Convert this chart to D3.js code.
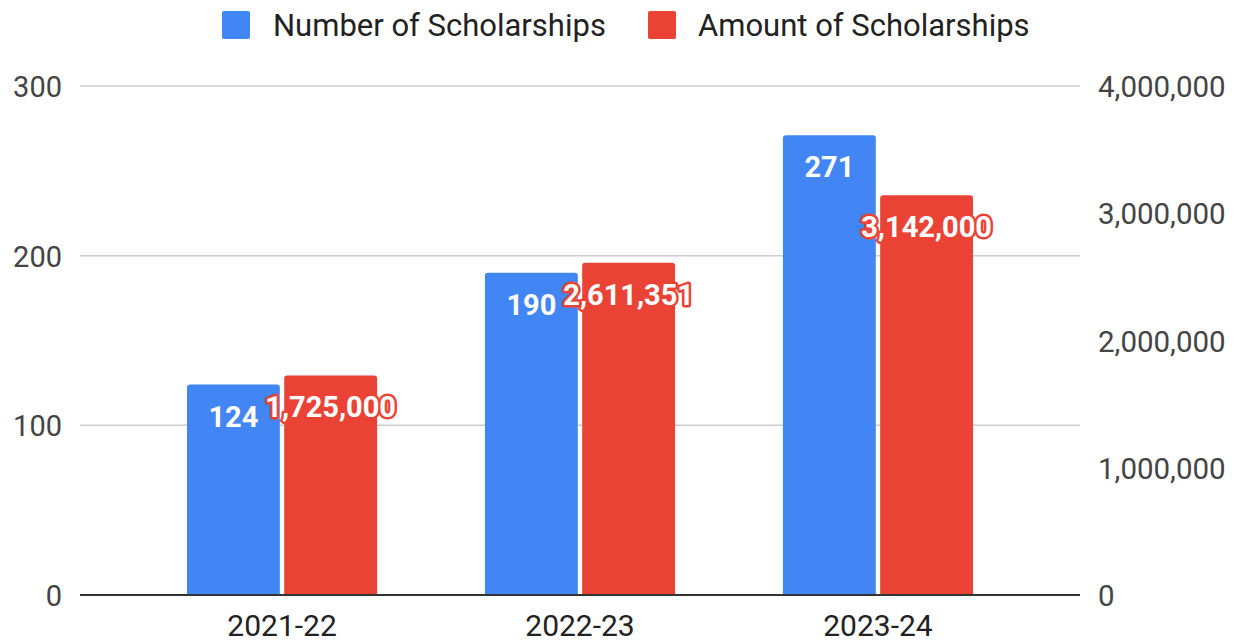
<!DOCTYPE html>
<html>
<head>
<meta charset="utf-8">
<script src="https://cdn.jsdelivr.net/npm/d3@7"></script>
<style>
  html, body { margin: 0; padding: 0; background: #fff; }
  svg { display: block; font-family: Roboto, "Noto Sans", sans-serif; }
</style>
</head>
<body>
<svg id="chart" width="1250" height="644"></svg>
<script>
const categories = ["2021-22", "2022-23", "2023-24"];
const seriesNames = ["Number of Scholarships", "Amount of Scholarships"];
const numberValues = [124, 190, 271];
const amountValues = [1725000, 2611351, 3142000];
const leftTicks = [0, 100, 200, 300];
const rightTicks = [0, 1000000, 2000000, 3000000, 4000000];
const colors = ["#4285F4", "#EA4335"];

const svg = d3.select("#chart");
const W = 1250, H = 644;
const plot = { left: 80, right: 1080, top: 86, bottom: 595 };

const x = d3.scaleBand().domain(categories).range([plot.left, plot.right])
  .paddingInner(0.362).paddingOuter(0.359);
const xs = d3.scaleBand().domain([0, 1]).range([0, x.bandwidth()]).paddingInner(0.045);
const yL = d3.scaleLinear().domain([0, 300]).range([plot.bottom, plot.top]);
const yR = d3.scaleLinear().domain([0, 4000000]).range([plot.bottom, plot.top]);

// gridlines
svg.append("g").selectAll("line").data(leftTicks.filter(d => d > 0)).join("line")
  .attr("x1", plot.left).attr("x2", plot.right)
  .attr("y1", d => yL(d)).attr("y2", d => yL(d))
  .attr("stroke", "#cccccc").attr("stroke-width", 1.5);

// left axis
const leftAxis = d3.axisLeft(yL).tickValues(leftTicks).tickSize(0).tickPadding(18).tickFormat(d3.format("d"));
const gL = svg.append("g").attr("transform", `translate(${plot.left},0)`).call(leftAxis);
gL.select(".domain").remove();
gL.selectAll("text").attr("font-size", 29).attr("fill", "#444").attr("font-family", "Roboto").attr("dy", "0.36em");

// right axis
const rightAxis = d3.axisRight(yR).tickValues(rightTicks).tickSize(0).tickPadding(18).tickFormat(d3.format(","));
const gR = svg.append("g").attr("transform", `translate(${plot.right},0)`).call(rightAxis);
gR.select(".domain").remove();
gR.selectAll("text").attr("font-size", 29.5).attr("fill", "#444").attr("font-family", "Roboto").attr("dy", "0.36em");

function topRounded(x0, y0, w, h, r) {
  r = Math.min(r, h, w / 2);
  return `M${x0},${y0 + h}V${y0 + r}Q${x0},${y0} ${x0 + r},${y0}H${x0 + w - r}Q${x0 + w},${y0} ${x0 + w},${y0 + r}V${y0 + h}Z`;
}

const rows = categories.map((c, i) => ({ cat: c, vals: [numberValues[i], amountValues[i]] }));
const scales = [yL, yR];

const groups = svg.append("g").selectAll("g").data(rows).join("g")
  .attr("transform", d => `translate(${x(d.cat)},0)`);

groups.selectAll("path").data(d => d.vals.map((v, k) => ({ v, k }))).join("path")
  .attr("d", d => {
    const y0 = scales[d.k](d.v);
    return topRounded(xs(d.k), y0, xs.bandwidth(), plot.bottom - y0, 3);
  })
  .attr("fill", d => colors[d.k]);

// baseline
svg.append("line").attr("x1", plot.left).attr("x2", plot.right)
  .attr("y1", plot.bottom).attr("y2", plot.bottom)
  .attr("stroke", "#333").attr("stroke-width", 2);

// data labels
const fmtN = d3.format("d"), fmtA = d3.format(",");
groups.selectAll("text.lbl").data(d => d.vals.map((v, k) => ({ v, k }))).join("text")
  .attr("class", "lbl")
  .attr("x", d => xs(d.k) + xs.bandwidth() / 2)
  .attr("y", d => scales[d.k](d.v) + 42)
  .attr("text-anchor", "middle")
  .attr("font-size", 29).attr("font-weight", "bold").attr("font-family", "Roboto")
  .attr("fill", "#fff")
  .attr("stroke", d => d.k === 1 ? "#EA4335" : "none")
  .attr("stroke-width", d => d.k === 1 ? 5 : 0)
  .attr("stroke-linejoin", "round")
  .attr("paint-order", "stroke")
  .text(d => d.k === 0 ? fmtN(d.v) : fmtA(d.v));

// x axis labels
const xAxis = d3.axisBottom(x).tickSize(0).tickPadding(20);
const gX = svg.append("g").attr("transform", `translate(0,${plot.bottom})`).call(xAxis);
gX.select(".domain").remove();
gX.selectAll("text").attr("font-size", 30).attr("fill", "#222").attr("font-family", "Roboto");

// legend
const legendItems = [
  { name: seriesNames[0], color: colors[0], rx: 222, tx: 273 },
  { name: seriesNames[1], color: colors[1], rx: 648, tx: 698 }
];
const lg = svg.append("g");
legendItems.forEach(it => {
  lg.append("rect").attr("x", it.rx).attr("y", 11).attr("width", 28).attr("height", 28)
    .attr("rx", 2).attr("fill", it.color);
  lg.append("text").attr("x", it.tx).attr("y", 25).attr("dy", "0.36em")
    .attr("font-size", 31).attr("fill", "#222").attr("font-family", "Roboto").text(it.name);
});
</script>
</body>
</html>
